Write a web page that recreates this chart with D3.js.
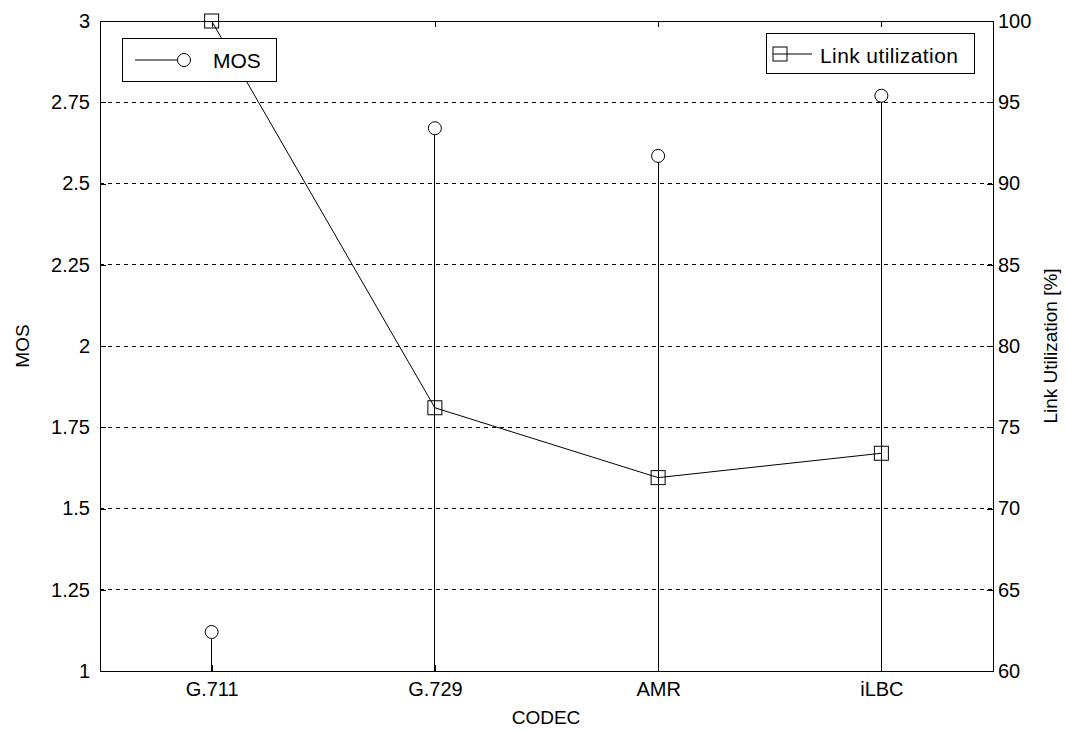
<!DOCTYPE html>
<html><head><meta charset="utf-8">
<script src="https://cdn.jsdelivr.net/npm/d3@7"></script>
<style>body{margin:0;background:#fff}svg{display:block}text{font-family:"Liberation Sans",Arial,sans-serif;fill:#000}</style>
</head><body><svg id="c" width="1066" height="731"></svg>
<script>
const codecs = ["G.711","G.729","AMR","iLBC"];
const mos = [1.12, 2.67, 2.585, 2.77];
const linkUtil = [100, 76.2, 71.9, 73.4];
const mosTicks = [1,1.25,1.5,1.75,2,2.25,2.5,2.75,3];
const mosTickLabels = ["1","1.25","1.5","1.75","2","2.25","2.5","2.75","3"];
const utilTicks = [60,65,70,75,80,85,90,95,100];

const FS = 20;
const svg = d3.select("#c");
const L=100,R=993,T=21,B=671;
const x = d3.scalePoint().domain(codecs).range([L,R]).padding(0.5);
const y = d3.scaleLinear().domain([1,3]).range([B,T]);
const y2 = d3.scaleLinear().domain([60,100]).range([B,T]);

// grid
svg.append("g").selectAll("line").data(mosTicks.slice(1,-1)).join("line")
  .attr("x1",L).attr("x2",R).attr("y1",d=>y(d)).attr("y2",d=>y(d))
  .attr("stroke","#000").attr("stroke-width",1).attr("stroke-dasharray","4,4").attr("shape-rendering","crispEdges");

// axes
const ax = d3.axisLeft(y).tickValues(mosTicks).tickFormat((d,i)=>mosTickLabels[i]).tickSizeInner(-6).tickSizeOuter(0).tickPadding(10);
const gL = svg.append("g").attr("transform",`translate(${L},0)`).call(ax);
const ar = d3.axisRight(y2).tickValues(utilTicks).tickSizeInner(-6).tickSizeOuter(0).tickPadding(5);
const gR = svg.append("g").attr("transform",`translate(${R},0)`).call(ar);
const ab = d3.axisBottom(x).tickSizeInner(-6).tickSizeOuter(0).tickPadding(11);
const gB = svg.append("g").attr("transform",`translate(0,${B})`).call(ab);
const at = d3.axisTop(x).tickSizeInner(-6).tickSizeOuter(0).tickFormat("");
const gT = svg.append("g").attr("transform",`translate(0,${T})`).call(at);
[gL,gR,gB,gT].forEach(g=>{
  g.selectAll(".domain").remove();
  g.selectAll("line").attr("stroke","#000").attr("shape-rendering","crispEdges");
  g.selectAll("text").attr("font-size",FS).attr("font-family","Liberation Sans, Arial, sans-serif").attr("fill","#000");
});

// box
svg.append("rect").attr("x",L).attr("y",T).attr("width",R-L).attr("height",B-T)
  .attr("fill","none").attr("stroke","#000").attr("shape-rendering","crispEdges");

// stems
svg.append("g").selectAll("line").data(codecs).join("line")
  .attr("x1",d=>x(d)).attr("x2",d=>x(d)).attr("y1",y(1)).attr("y2",(d,i)=>y(mos[i])+6.5)
  .attr("stroke","#000").attr("shape-rendering","crispEdges");
svg.append("g").selectAll("circle").data(codecs).join("circle")
  .attr("cx",d=>x(d)).attr("cy",(d,i)=>y(mos[i])).attr("r",6.5)
  .attr("fill","none").attr("stroke","#000");

// link utilization line
const line = d3.line().x(d=>x(d.c)).y(d=>y2(d.v));
const ldata = codecs.map((c,i)=>({c,v:linkUtil[i]}));
svg.append("path").datum(ldata).attr("d",line).attr("fill","none").attr("stroke","#000");
svg.append("g").selectAll("rect").data(ldata).join("rect")
  .attr("x",d=>x(d.c)-7).attr("y",d=>y2(d.v)-7).attr("width",14).attr("height",14)
  .attr("fill","none").attr("stroke","#000");

// legends
const lg1 = svg.append("g");
lg1.append("rect").attr("x",122).attr("y",38).attr("width",154).attr("height",43).attr("fill","#fff").attr("stroke","#000").attr("shape-rendering","crispEdges");
lg1.append("line").attr("x1",135).attr("x2",177).attr("y1",60).attr("y2",60).attr("stroke","#000");
lg1.append("circle").attr("cx",184).attr("cy",60).attr("r",6.5).attr("fill","#fff").attr("stroke","#000");
lg1.append("text").attr("x",213).attr("y",68).attr("font-size",FS+1).text("MOS");

const lg2 = svg.append("g");
lg2.append("rect").attr("x",766).attr("y",33).attr("width",208).attr("height",40).attr("fill","#fff").attr("stroke","#000").attr("shape-rendering","crispEdges");
lg2.append("line").attr("x1",773).attr("x2",812).attr("y1",54).attr("y2",54).attr("stroke","#000");
lg2.append("rect").attr("x",773).attr("y",47).attr("width",14).attr("height",14).attr("fill","none").attr("stroke","#000");
lg2.append("text").attr("x",820).attr("y",63).attr("font-size",FS+1).attr("letter-spacing",0.4).text("Link utilization");

// axis labels
svg.append("text").attr("x",546).attr("y",724).attr("text-anchor","middle").attr("font-size",FS-1).text("CODEC");
svg.append("text").attr("transform","translate(29,346) rotate(-90)").attr("text-anchor","middle").attr("font-size",FS-1).text("MOS");
svg.append("text").attr("transform","translate(1057,346) rotate(-90)").attr("text-anchor","middle").attr("font-size",FS-1).text("Link Utilization [%]");
</script></body></html>
